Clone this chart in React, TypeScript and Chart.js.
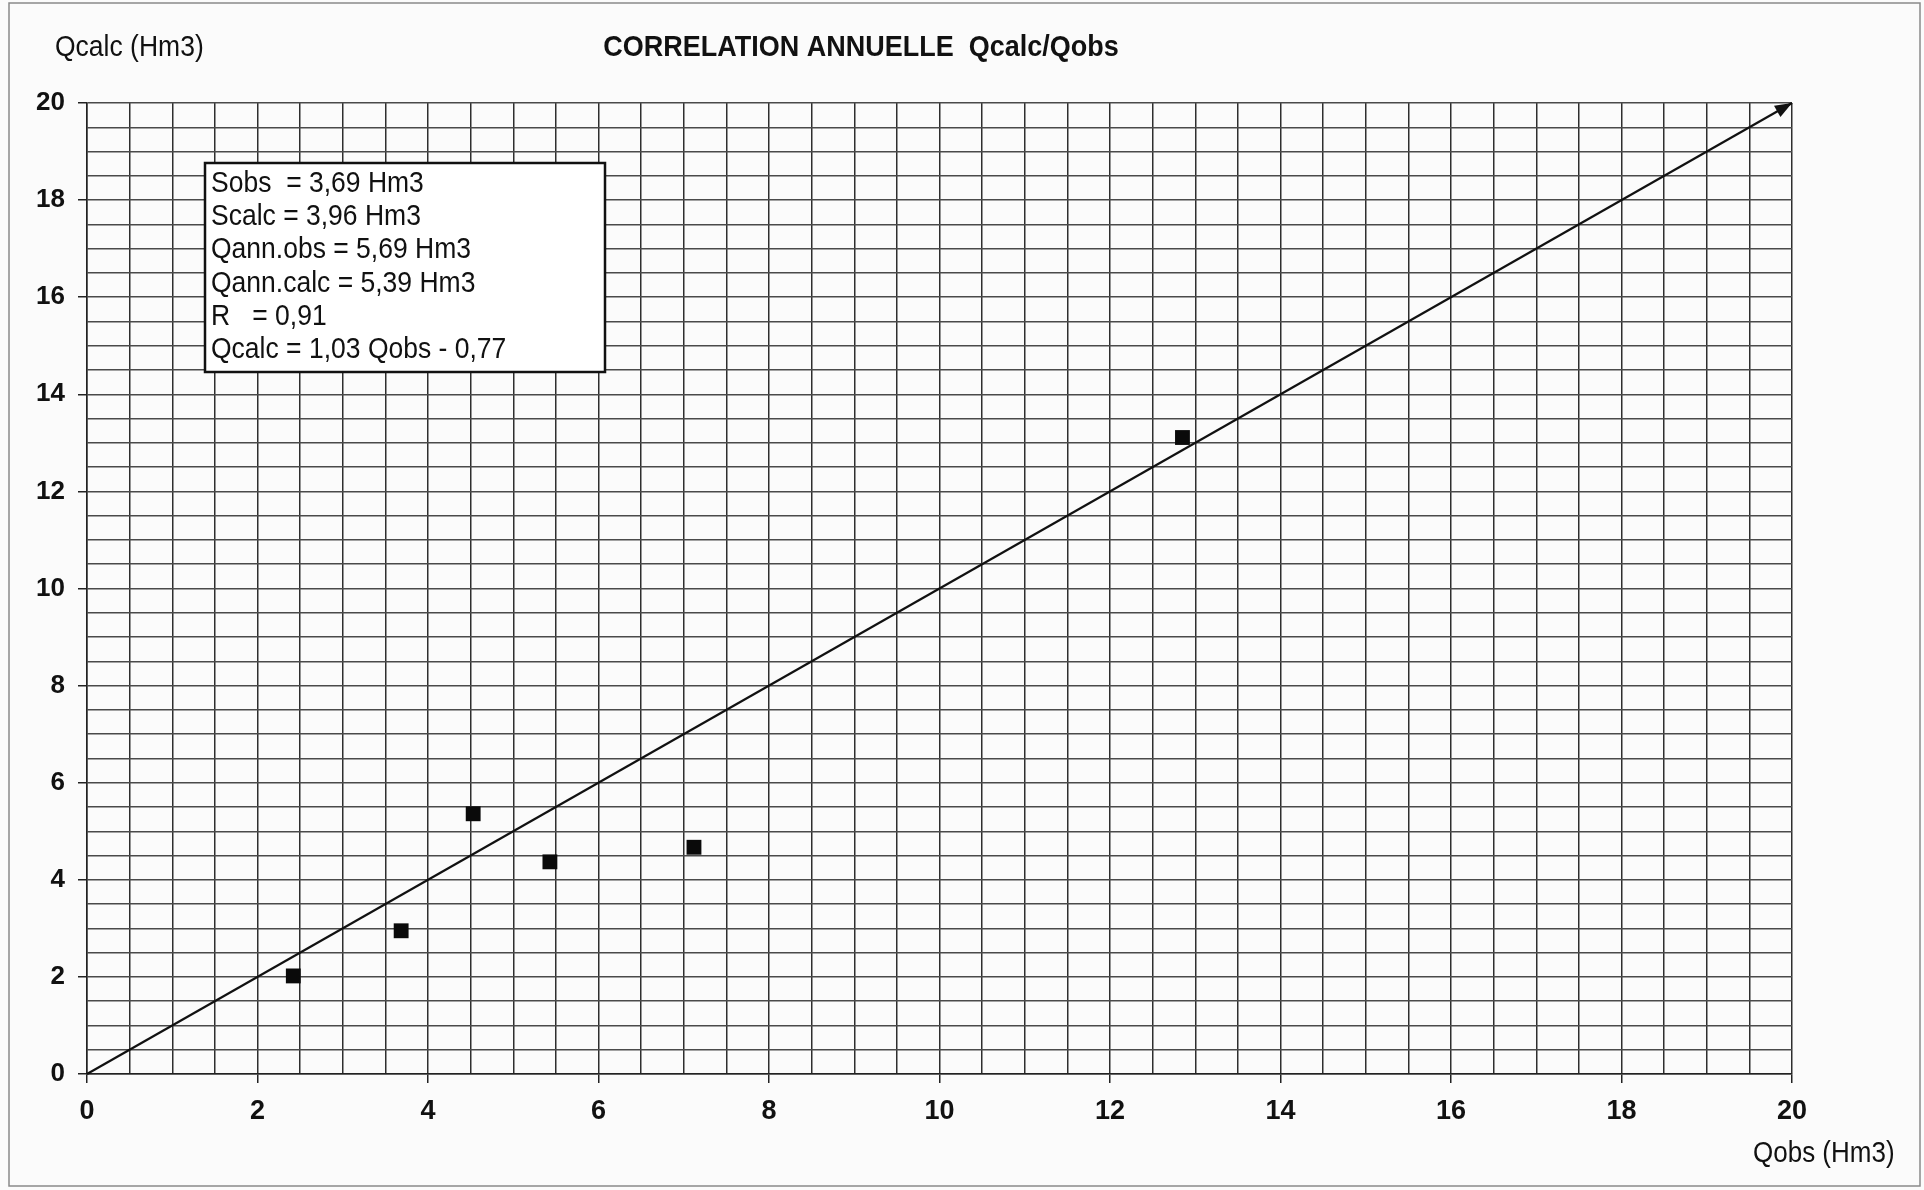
import React, { useEffect, useRef } from 'react';
import { Chart, registerables } from 'chart.js';

Chart.register(...registerables);

// ---- data ----
const qObs = [2.42, 3.685, 4.53, 5.43, 7.12, 12.85];
const qCalc = [2.02, 2.95, 5.36, 4.37, 4.67, 13.11];
const bisectorX = [0, 20];
const bisectorY = [0, 20];
const axisMin = 0;
const axisMax = 20;
const gridStep = 0.5;
const labelStep = 2;
const titleText = 'CORRELATION ANNUELLE  Qcalc/Qobs';
const yAxisTitle = 'Qcalc (Hm3)';
const xAxisTitle = 'Qobs (Hm3)';
const statsLines = [
  'Sobs  = 3,69 Hm3',
  'Scalc = 3,96 Hm3',
  'Qann.obs = 5,69 Hm3',
  'Qann.calc = 5,39 Hm3',
  'R   = 0,91',
  'Qcalc = 1,03 Qobs - 0,77',
];

const FONT = '"Liberation Sans", Arial, Helvetica, sans-serif';
const W = 1924;
const H = 1190;
const V_STRETCH = 1.12;

const isMajor = (v: number) => Math.abs(v / labelStep - Math.round(v / labelStep)) < 1e-6;

const backgroundPlugin = {
  id: 'bgFrame',
  beforeDraw(chart: any) {
    const ctx = chart.ctx;
    ctx.save();
    ctx.fillStyle = '#fbfbfb';
    ctx.fillRect(0, 0, chart.width, chart.height);
    ctx.strokeStyle = '#8a8a8a';
    ctx.lineWidth = 1.5;
    ctx.strokeRect(9, 3, chart.width - 13, chart.height - 7);
    ctx.restore();
  },
};

const arrowPlugin = {
  id: 'arrowHead',
  afterDatasetsDraw(chart: any) {
    const meta = chart.getDatasetMeta(0);
    if (!meta || meta.data.length < 2) return;
    const p0 = meta.data[meta.data.length - 2];
    const p1 = meta.data[meta.data.length - 1];
    const a = Math.atan2(p1.y - p0.y, p1.x - p0.x);
    const len = 17;
    const half = 6.5;
    const ctx = chart.ctx;
    ctx.save();
    ctx.translate(p1.x, p1.y);
    ctx.rotate(a);
    ctx.beginPath();
    ctx.moveTo(0, 0);
    ctx.lineTo(-len, -half);
    ctx.lineTo(-len, half);
    ctx.closePath();
    ctx.fillStyle = '#111';
    ctx.fill();
    ctx.restore();
  },
};

function stretchedText(ctx: CanvasRenderingContext2D, text: string, x: number, y: number) {
  ctx.save();
  ctx.translate(x, y);
  ctx.scale(1, V_STRETCH);
  ctx.fillText(text, 0, 0);
  ctx.restore();
}

const textPlugin = {
  id: 'texts',
  afterDraw(chart: any) {
    const ctx = chart.ctx;
    ctx.save();
    ctx.fillStyle = '#111';
    ctx.textBaseline = 'alphabetic';

    // title
    ctx.font = `bold 27px ${FONT}`;
    ctx.textAlign = 'center';
    stretchedText(ctx, titleText, 861, 56);

    // y axis title
    ctx.font = `26.5px ${FONT}`;
    ctx.textAlign = 'left';
    stretchedText(ctx, yAxisTitle, 55, 56);

    // x axis title
    ctx.font = `26px ${FONT}`;
    stretchedText(ctx, xAxisTitle, 1753, 1162);

    // stats box
    const bx = 205, by = 163, bw = 400, bh = 209;
    ctx.fillStyle = '#ffffff';
    ctx.fillRect(bx, by, bw, bh);
    ctx.strokeStyle = '#111';
    ctx.lineWidth = 2.5;
    ctx.strokeRect(bx, by, bw, bh);
    ctx.fillStyle = '#111';
    ctx.font = `26.5px ${FONT}`;
    statsLines.forEach((s, i) => {
      stretchedText(ctx, s, 211, 192 + i * 33.2);
    });
    ctx.restore();
  },
};

export default function App() {
  const canvasRef = useRef<HTMLCanvasElement | null>(null);

  useEffect(() => {
    document.body.style.margin = '0';
    document.body.style.overflow = 'hidden';
    const canvas = canvasRef.current;
    if (!canvas) return;

    const gridCommon = (color: string) => ({
      color,
      lineWidth: 1.5,
      tickLength: 9,
      drawTicks: true,
      tickWidth: 1.5,
      tickColor: (c: any) => (c.tick && isMajor(c.tick.value) ? '#222' : 'rgba(0,0,0,0)'),
    });

    const chart = new Chart(canvas, {
      type: 'scatter',
      data: {
        datasets: [
          {
            type: 'line',
            label: 'Qcalc = Qobs',
            data: bisectorX.map((x, i) => ({ x, y: bisectorY[i] })),
            borderColor: '#111',
            borderWidth: 2.2,
            pointRadius: 0,
            fill: false,
            showLine: true,
            clip: false,
            order: 2,
          } as any,
          {
            type: 'scatter',
            label: 'Années',
            data: qObs.map((x, i) => ({ x, y: qCalc[i] })),
            pointStyle: 'rect',
            pointRadius: 10.5,
            backgroundColor: '#0a0a0a',
            borderColor: '#0a0a0a',
            borderWidth: 0,
            order: 1,
          } as any,
        ],
      },
      options: {
        responsive: false,
        animation: false,
        devicePixelRatio: 1,
        layout: { padding: { left: 0, top: 103, right: 132, bottom: 0 } },
        plugins: {
          legend: { display: false },
          tooltip: { enabled: false },
          title: { display: false },
        },
        scales: {
          x: {
            type: 'linear',
            position: 'bottom',
            min: axisMin,
            max: axisMax,
            afterFit: (s: any) => {
              s.height = 116;
            },
            ticks: {
              stepSize: gridStep,
              autoSkip: false,
              maxRotation: 0,
              minRotation: 0,
              padding: 12,
              color: '#111',
              font: { family: FONT, size: 27, weight: 'bold' },
              callback: (v: any) => (isMajor(Number(v)) ? String(v) : ''),
            },
            grid: gridCommon('#2e2e2e'),
            border: { display: true, color: '#222', width: 1.5 },
          },
          y: {
            type: 'linear',
            position: 'left',
            min: axisMin,
            max: axisMax,
            afterFit: (s: any) => {
              s.width = 87;
            },
            ticks: {
              stepSize: gridStep,
              autoSkip: false,
              padding: 13,
              color: '#111',
              font: { family: FONT, size: 26, weight: 'bold' },
              callback: (v: any) => (isMajor(Number(v)) ? String(v) : ''),
            },
            grid: gridCommon('#4a4a4a'),
            border: { display: true, color: '#222', width: 1.5 },
          },
        },
      } as any,
      plugins: [backgroundPlugin, arrowPlugin, textPlugin],
    });

    return () => {
      chart.destroy();
    };
  }, []);

  return (
    <div style={{ position: 'absolute', left: 0, top: 0, width: W, height: H }}>
      <canvas ref={canvasRef} width={W} height={H} style={{ display: 'block', width: W, height: H }} />
    </div>
  );
}
